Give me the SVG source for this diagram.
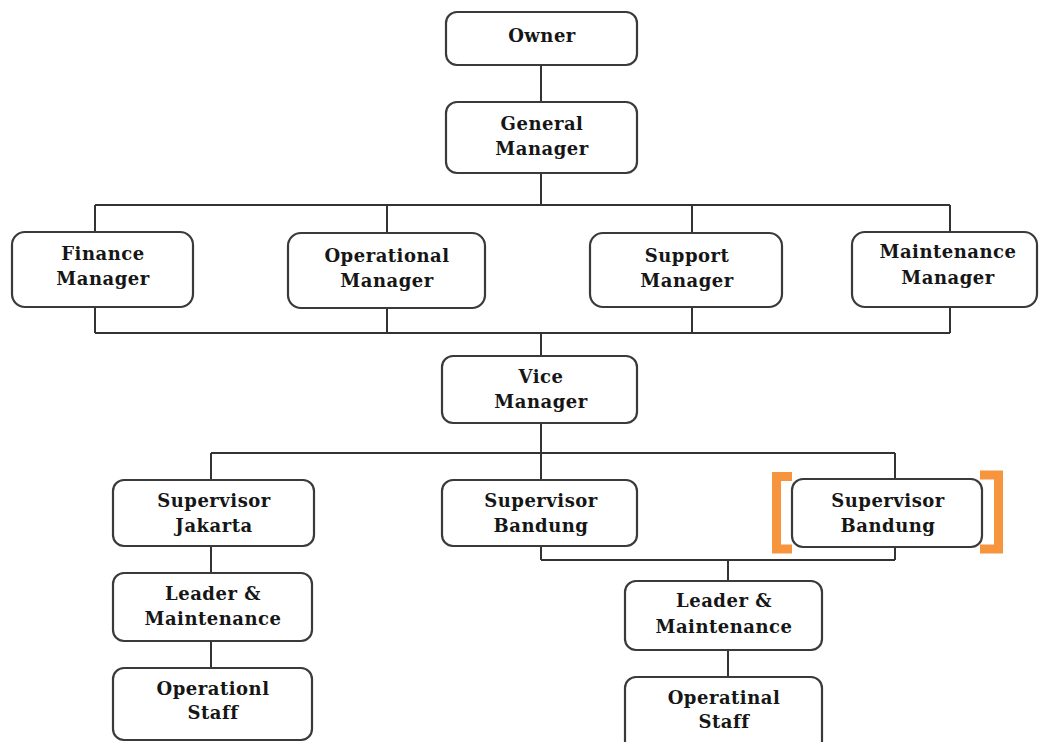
<svg xmlns="http://www.w3.org/2000/svg" width="1039" height="742" viewBox="0 0 1039 742">
<style>
.box{fill:#fff;stroke:#3a3a3a;stroke-width:2.2}
.c{fill:none;stroke:#333;stroke-width:2}
.br{fill:none;stroke:#f7943e;stroke-width:9}
</style>
<rect width="1039" height="742" fill="#fff"/>
<g id="connectors">
<path class="c" d="M541 65V102M541 173V205M95 205H950M95 205V232M387 205V233M692 205V233M950 205V232"/>
<path class="c" d="M95 307V333M387 308V333M692 307V333M950 307V333M95 333H950M541 333V356"/>
<path class="c" d="M541 423V480M211 453H895M211 453V480M895 453V479"/>
<path class="c" d="M895 547V560M541 546V560M541 560H895M728 560V581"/>
<path class="c" d="M211 546V573M211 641V668M728 650V677"/>
</g>
<g font-family="DejaVu Serif, serif" font-weight="bold" font-size="18" letter-spacing="0.5" fill="#161616" text-anchor="middle">
<g id="owner"><rect class="box" x="446" y="12" width="191" height="53" rx="11"/><text x="542" y="42">Owner</text></g>
<g id="general-manager"><rect class="box" x="446" y="102" width="191" height="71" rx="11"/><text x="542" y="130">General</text><text x="542" y="155">Manager</text></g>
<g id="finance-manager"><rect class="box" x="12" y="232" width="181" height="75" rx="13"/><text x="103" y="260">Finance</text><text x="103" y="285">Manager</text></g>
<g id="operational-manager"><rect class="box" x="288" y="233" width="197" height="75" rx="13"/><text x="387" y="262">Operational</text><text x="387" y="287">Manager</text></g>
<g id="support-manager"><rect class="box" x="590" y="233" width="192" height="74" rx="13"/><text x="687" y="262">Support</text><text x="687" y="287">Manager</text></g>
<g id="maintenance-manager"><rect class="box" x="852" y="232" width="185" height="75" rx="13"/><text x="948" y="258">Maintenance</text><text x="948" y="284">Manager</text></g>
<g id="vice-manager"><rect class="box" x="442" y="356" width="195" height="67" rx="11"/><text x="541" y="383">Vice</text><text x="541" y="408">Manager</text></g>
<g id="supervisor-jakarta"><rect class="box" x="113" y="480" width="201" height="66" rx="11"/><text x="214" y="507">Supervisor</text><text x="214" y="532">Jakarta</text></g>
<g id="supervisor-bandung-1"><rect class="box" x="442" y="480" width="195" height="66" rx="11"/><text x="541" y="507">Supervisor</text><text x="541" y="532">Bandung</text></g>
<g id="supervisor-bandung-2"><rect class="box" x="792" y="479" width="190" height="68" rx="11"/><text x="888" y="507">Supervisor</text><text x="888" y="532">Bandung</text></g>
<g id="highlight"><path class="br" d="M792 476.5H776.5V549H792"/><path class="br" d="M980 475H998.5V549H980"/></g>
<g id="leader-maintenance-1"><rect class="box" x="113" y="573" width="199" height="68" rx="11"/><text x="213" y="600">Leader &amp;</text><text x="213" y="625">Maintenance</text></g>
<g id="operational-staff-1"><rect class="box" x="113" y="668" width="199" height="72" rx="11"/><text x="213" y="695">Operationl</text><text x="213" y="719">Staff</text></g>
<g id="leader-maintenance-2"><rect class="box" x="625" y="581" width="197" height="69" rx="11"/><text x="724" y="607">Leader &amp;</text><text x="724" y="633">Maintenance</text></g>
<g id="operational-staff-2"><rect class="box" x="625" y="677" width="197" height="75" rx="11"/><text x="724" y="704">Operatinal</text><text x="724" y="728">Staff</text></g>
</g>
</svg>
